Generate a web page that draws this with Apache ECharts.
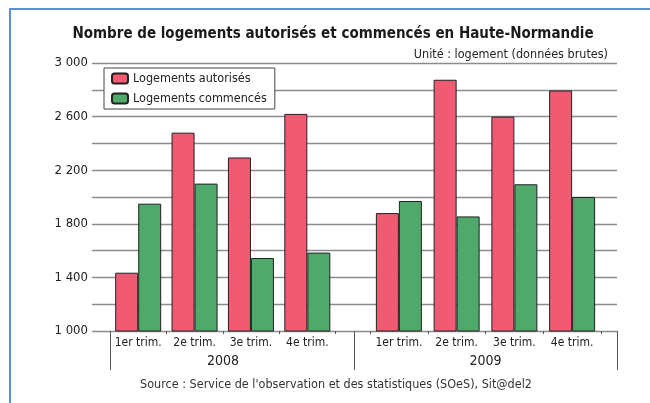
<!DOCTYPE html>
<html>
<head>
<meta charset="utf-8">
<script src="https://cdn.jsdelivr.net/npm/echarts@6/dist/echarts.min.js"></script>
<style>
  body{margin:0;background:#fff;}
  #chart{width:650px;height:403px;}
</style>
</head>
<body>
<div id="chart"></div>
<script>
  // trimestres et années
  var trimestres = ['1er trim.', '2e trim.', '3e trim.', '4e trim.'];
  var annees = ['2008', '2009'];
  // logements autorisés / commencés (données brutes)
  var autorises2008 = [1435, 2480, 2295, 2620];
  var commences2008 = [1950, 2100, 1545, 1585];
  var autorises2009 = [1880, 2875, 2600, 2795];
  var commences2009 = [1970, 1855, 2095, 2000];

  var police = "'DejaVu Sans Condensed', 'Liberation Sans', sans-serif";
  var rouge = '#f05a73';
  var vert = '#4fa96b';
  var gris = '#8c8c8c';

  var myChart = echarts.init(document.getElementById('chart'));

  function milliers(v){
    return String(v).replace(/\B(?=(\d{3})+(?!\d))/g, ' ');
  }
  // axe y caché pour les grilles des barres
  function axeY(i){
    return {type:'value', gridIndex:i, min:1000, max:3000, show:false};
  }
  function axeTrim(i){
    return {
      type:'category', gridIndex:i, data:trimestres,
      axisLine:{show:false},
      axisTick:{show:true, length:3, lineStyle:{color:'#555'}},
      axisLabel:{interval:0, fontFamily:police, fontSize:12, color:'#222', margin:6}
    };
  }
  function axeAnnee(i, nom, pad){
    return {
      type:'category', gridIndex:i, data:[nom],
      axisLine:{show:false},
      axisTick:{show:true, length:39, lineStyle:{color:'#555'}},
      axisLabel:{fontFamily:police, fontSize:14, color:'#222', margin:23, padding:pad}
    };
  }
  function barres(nom, i, data, couleur){
    return {
      name:nom, type:'bar', xAxisIndex:i, yAxisIndex:i, data:data,
      barWidth:23, barGap:'0%',
      itemStyle:{color:couleur, borderColor:'#222', borderWidth:1}
    };
  }

  var option = {
    animation:false,
    title:[
      {text:'Nombre de logements autorisés et commencés en Haute-Normandie', left:333, top:27, textAlign:'center', padding:0,
        textStyle:{fontFamily:police, fontSize:15, fontWeight:'bold', color:'#1a1a1a'}},
      {text:'Unité : logement (données brutes)', right:42, top:48, padding:0,
        textStyle:{fontFamily:police, fontSize:12.5, fontWeight:'normal', color:'#222'}},
      {text:"Source : Service de l'observation et des statistiques (SOeS), Sit@del2", left:336, top:378, textAlign:'center', padding:0,
        textStyle:{fontFamily:police, fontSize:12.5, fontWeight:'normal', color:'#333'}}
    ],
    legend:{
      orient:'vertical', left:104, top:68,
      data:['Logements autorisés', 'Logements commencés'],
      itemWidth:16, itemHeight:10, itemGap:7,
      padding:[4, 8, 4, 7],
      backgroundColor:'#fff', borderColor:'#444', borderWidth:1,
      textStyle:{fontFamily:police, fontSize:12.5, color:'#222'}
    },
    grid:[
      {left:92, right:33, top:63, bottom:72},
      {left:110, width:225.5, top:63, bottom:72},
      {left:370, width:231, top:63, bottom:72},
      {left:110, width:244, top:63, bottom:72},
      {left:354, right:33, top:63, bottom:72}
    ],
    xAxis:[
      {type:'category', gridIndex:0, data:trimestres, show:false},
      axeTrim(1),
      axeTrim(2),
      axeAnnee(3, annees[0], [0, 18, 0, 0]),
      axeAnnee(4, annees[1], [0, 0, 0, 0])
    ],
    yAxis:[
      {
        type:'value', gridIndex:0, min:1000, max:3000, interval:200,
        axisLine:{show:false}, axisTick:{show:false},
        splitLine:{show:true, lineStyle:{color:gris, width:1.3}},
        axisLabel:{
          fontFamily:police, fontSize:13, color:'#222', margin:4,
          formatter:function(v){ return (v - 1000) % 400 === 0 ? milliers(v) : ''; }
        }
      },
      axeY(1), axeY(2), axeY(3), axeY(4)
    ],
    graphic:[
      {type:'rect', silent:true, z:-1, shape:{x:10, y:9, width:700, height:500},
        style:{fill:'none', stroke:'#5b8fd0', lineWidth:2}}
    ],
    series:[
      barres('Logements autorisés', 1, autorises2008, rouge),
      barres('Logements commencés', 1, commences2008, vert),
      barres('Logements autorisés', 2, autorises2009, rouge),
      barres('Logements commencés', 2, commences2009, vert)
    ]
  };
  myChart.setOption(option);
</script>
</body>
</html>
